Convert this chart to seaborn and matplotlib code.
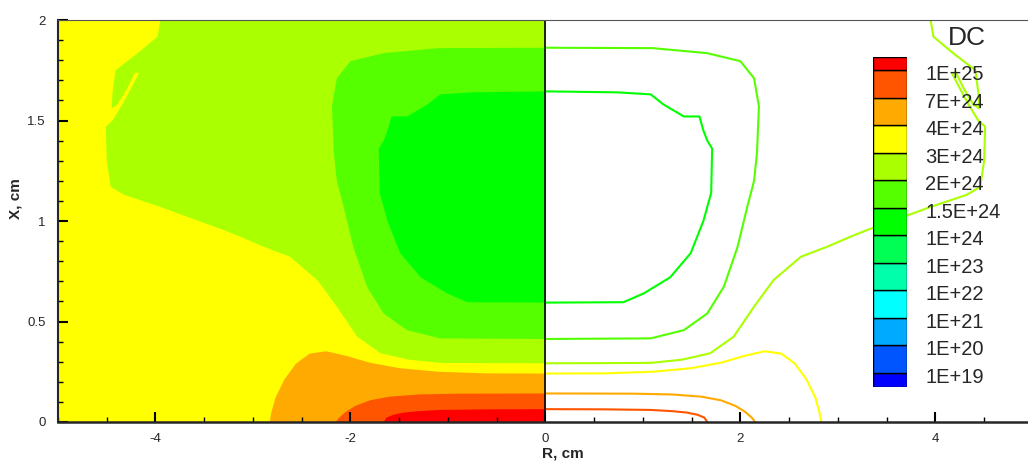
import matplotlib
matplotlib.use("Agg")
import matplotlib.pyplot as plt
from matplotlib.ticker import MultipleLocator, FuncFormatter
import seaborn as sns

# contour levels of DC and band colours (bottom -> top, one more band than levels)
level_labels = ["1E+19", "1E+20", "1E+21", "1E+22", "1E+23", "1E+24",
                "1.5E+24", "2E+24", "3E+24", "4E+24", "7E+24", "1E+25"]
band_colors = ["#0000ff", "#0055ff", "#00aaff", "#00ffff", "#00ffaa", "#00ff55",
               "#00ff00", "#55ff00", "#aaff00", "#ffff00", "#ffaa00", "#ff5500", "#ff0000"]

# iso-lines: |R| (cm) and X (cm), starting at the axis R=0
r_1e25 = [0, 0.6, 1.08, 1.3, 1.45, 1.56, 1.63, 1.66]
x_1e25 = [0.064, 0.063, 0.060, 0.054, 0.047, 0.036, 0.022, 0.0]

r_7e24 = [0, 0.9, 1.3, 1.6, 1.8, 1.95, 2.05, 2.12, 2.15]
x_7e24 = [0.142, 0.141, 0.137, 0.126, 0.108, 0.08, 0.05, 0.02, 0.0]

r_4e24 = [0, 0.6, 1.1, 1.5, 1.8, 2.05, 2.25, 2.42, 2.56, 2.68, 2.77, 2.81, 2.83]
x_4e24 = [0.241, 0.242, 0.250, 0.268, 0.295, 0.33, 0.352, 0.34, 0.29, 0.21, 0.12, 0.05, 0.0]

r_3e24 = [0, 0.6, 1.08, 1.4, 1.69, 1.93, 2.14, 2.34, 2.62, 2.89, 3.13, 3.30, 3.67,
          3.95, 4.32, 4.46, 4.50, 4.51, 4.44, 4.34, 4.24, 4.17, 4.21, 4.29, 4.39,
          4.45, 4.44, 4.41, 4.17, 3.98, 3.95]
x_3e24 = [0.292, 0.293, 0.294, 0.31, 0.342, 0.424, 0.574, 0.706, 0.822, 0.872, 0.922, 0.955, 1.02,
          1.07, 1.13, 1.17, 1.30, 1.47, 1.50, 1.58, 1.67, 1.735, 1.74, 1.66, 1.58,
          1.56, 1.64, 1.75, 1.84, 1.917, 2.0]

r_2e24 = [0, 1.08, 1.42, 1.66, 1.83, 1.97, 2.07, 2.14, 2.17, 2.19, 2.14, 2.0, 1.66, 1.1, 0]
x_2e24 = [0.413, 0.416, 0.457, 0.54, 0.673, 0.87, 1.07, 1.2, 1.34, 1.57, 1.71, 1.795, 1.835, 1.86, 1.862]

r_15e24 = [0, 0.80, 1.01, 1.28, 1.49, 1.62, 1.70, 1.71, 1.66, 1.62, 1.58, 1.42, 1.21, 1.08, 0.74, 0]
x_15e24 = [0.594, 0.596, 0.64, 0.72, 0.84, 1.0, 1.14, 1.36, 1.40, 1.45, 1.52, 1.52, 1.58, 1.63, 1.64, 1.645]

R_MIN, R_MAX = -5.0, 4.95
X_MIN, X_MAX = 0.0, 2.0

# (level, r, x, how the filled polygon is closed)
iso_lines = [
    ("3E+24", r_3e24, x_3e24, "top"),
    ("2E+24", r_2e24, x_2e24, "axis"),
    ("1.5E+24", r_15e24, x_15e24, "axis"),
    ("4E+24", r_4e24, x_4e24, "bottom"),
    ("7E+24", r_7e24, x_7e24, "bottom"),
    ("1E+25", r_1e25, x_1e25, "bottom"),
]

sns.set_style("ticks")
plt.rcParams['font.family'] = ['Liberation Sans', 'DejaVu Sans']

fig = plt.figure(figsize=(10.28, 4.62), dpi=100)
ax = fig.add_axes([58 / 1028, 40 / 462, 970 / 1028, 402 / 462])
ax.set_axisbelow(False)

# left half: flood fill, base band is 3E24..4E24
ax.axvspan(R_MIN, 0, color=band_colors[9], lw=0, zorder=1)
for level, r, x, close in iso_lines:
    idx = level_labels.index(level)
    fill_color = band_colors[idx] if close != "bottom" else band_colors[idx + 1]
    px = [-v for v in r]
    py = list(x)
    if close == "top":
        px.append(0)
        py.append(X_MAX)
    elif close == "bottom":
        px.append(0)
        py.append(X_MIN)
    ax.fill(px, py, color=fill_color, lw=0, zorder=2)

# right half: contour lines, coloured by the band below the level
for level, r, x, close in iso_lines:
    idx = level_labels.index(level)
    sns.lineplot(x=r, y=x, sort=False, estimator=None, color=band_colors[idx],
                 lw=1.5, ax=ax, zorder=3)

ax.axvline(0, color="black", lw=1.2, zorder=4)

ax.set_xlim(R_MIN, R_MAX)
ax.set_ylim(X_MIN, X_MAX)
ax.xaxis.set_major_locator(MultipleLocator(2))
ax.xaxis.set_minor_locator(MultipleLocator(0.5))
ax.yaxis.set_major_locator(MultipleLocator(0.5))
ax.yaxis.set_minor_locator(MultipleLocator(0.1))
ax.xaxis.set_major_formatter(FuncFormatter(lambda v, p: f"{v:g}"))
ax.yaxis.set_major_formatter(FuncFormatter(lambda v, p: f"{v:g}"))
ax.tick_params(which="major", direction="in", length=7, width=1.5, labelsize=9.5, color="black")
ax.tick_params(which="minor", direction="in", length=3.5, width=1, color="black")
ax.tick_params(axis="x", pad=8)
ax.tick_params(axis="y", pad=9)
for sp in ax.spines.values():
    sp.set_zorder(5)
ax.spines["left"].set_linewidth(1.5)
ax.spines["bottom"].set_linewidth(1.8)
ax.spines["top"].set_linewidth(0.8)
ax.spines["top"].set_color("#555555")
ax.spines["right"].set_visible(False)
ax.set_xlabel("R, cm", fontsize=11, fontweight="bold")
ax.set_ylabel("X, cm", fontsize=11, fontweight="bold")
ax.xaxis.set_label_coords(0.52, -0.062)
ax.yaxis.set_label_coords(-0.037, 0.557)

# colour legend
leg = fig.add_axes([872.7 / 1028, (462 - 386.7) / 462, 34 / 1028, 330 / 462])
heights = [0.5] + [1] * 11 + [0.5]
bottoms = [0]
for h in heights[:-1]:
    bottoms.append(bottoms[-1] + h)
leg.bar(x=[0] * len(heights), height=heights, bottom=bottoms, width=1,
        color=band_colors, edgecolor="black", lw=1, align="edge")
leg.set_xlim(0, 1)
leg.set_ylim(0, 12)
leg.axis("off")
for k, lab in enumerate(level_labels):
    leg.text(1.54, k + 0.5 - 0.16, lab, fontsize=14.5, ha="left", va="center")
leg.text(2.77, 12.68, "DC", fontsize=19, ha="center", va="center")

fig.savefig("out.png", dpi=100)
